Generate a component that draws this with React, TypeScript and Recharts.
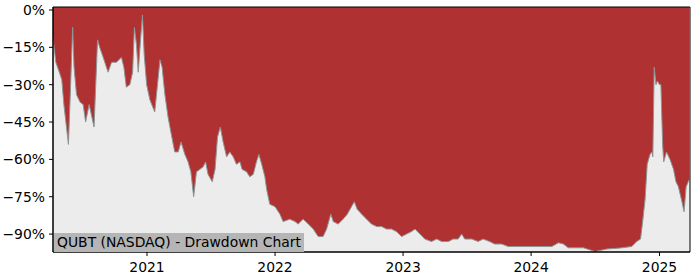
import { AreaChart, Area, XAxis, YAxis, CartesianGrid, ReferenceArea } from "recharts";

const FONT = "'DejaVu Sans', Verdana, sans-serif";
const RED = "#b03131";
const BG = "#ececec";

// weekly-ish samples
const dates = [
  "2020-04-08", "2020-04-16", "2020-04-26", "2020-05-03", "2020-05-09", "2020-05-22", "2020-05-28",
  "2020-06-03", "2020-06-07", "2020-06-14", "2020-06-24", "2020-07-03", "2020-07-10", "2020-07-20",
  "2020-08-03", "2020-08-13", "2020-08-19", "2020-08-29", "2020-09-12", "2020-09-22", "2020-10-06",
  "2020-10-20", "2020-10-27", "2020-11-03", "2020-11-13", "2020-11-21", "2020-11-26", "2020-12-02",
  "2020-12-07", "2020-12-14", "2020-12-19", "2020-12-24", "2020-12-31", "2021-01-09", "2021-01-23",
  "2021-01-28", "2021-02-07", "2021-02-13", "2021-02-21", "2021-03-02", "2021-03-10", "2021-03-21",
  "2021-03-31", "2021-04-08", "2021-04-19", "2021-04-28", "2021-05-06", "2021-05-14", "2021-05-22",
  "2021-06-01", "2021-06-10", "2021-06-17", "2021-06-24", "2021-07-06", "2021-07-14", "2021-07-21",
  "2021-07-29", "2021-08-06", "2021-08-16", "2021-08-25", "2021-09-04", "2021-09-13", "2021-09-23",
  "2021-09-29", "2021-10-12", "2021-10-21", "2021-10-31", "2021-11-09", "2021-11-16", "2021-11-24",
  "2021-12-03", "2021-12-08", "2021-12-17", "2022-01-01", "2022-01-15", "2022-01-24", "2022-02-12",
  "2022-02-27", "2022-03-08", "2022-03-22", "2022-04-06", "2022-04-20", "2022-05-04", "2022-05-18",
  "2022-05-28", "2022-06-09", "2022-06-16", "2022-06-30", "2022-07-14", "2022-07-26", "2022-08-07",
  "2022-08-15", "2022-08-23", "2022-09-05", "2022-09-19", "2022-10-03", "2022-10-18", "2022-11-01",
  "2022-11-15", "2022-11-29", "2022-12-13", "2022-12-28", "2023-01-11", "2023-01-25", "2023-02-04",
  "2023-02-18", "2023-03-04", "2023-03-23", "2023-04-07", "2023-04-21", "2023-05-10", "2023-05-24",
  "2023-06-07", "2023-06-17", "2023-06-26", "2023-07-16", "2023-08-03", "2023-08-17", "2023-09-05",
  "2023-09-19", "2023-10-09", "2023-10-28", "2023-11-16", "2023-12-05", "2023-12-24", "2024-01-12",
  "2024-01-31", "2024-02-15", "2024-02-29", "2024-03-19", "2024-04-02", "2024-04-16", "2024-05-05",
  "2024-05-29", "2024-07-01", "2024-08-04", "2024-09-11", "2024-10-14", "2024-10-28", "2024-11-08",
  "2024-11-14", "2024-11-21", "2024-11-27", "2024-12-05", "2024-12-10", "2024-12-13", "2024-12-17",
  "2024-12-22", "2024-12-26", "2025-01-01", "2025-01-05", "2025-01-10", "2025-01-13", "2025-01-21",
  "2025-01-31", "2025-02-10", "2025-02-17", "2025-02-24", "2025-03-06", "2025-03-12", "2025-03-18",
  "2025-03-24", "2025-03-27",
];

const drawdown = [
  -11, -21, -25, -28, -38, -54, -31,
  -7, -23, -34, -37, -38, -45, -38,
  -47, -12, -15, -19, -25, -21, -21,
  -19, -23, -31, -30, -25, -7, -14,
  -25, -11, -2, -18, -30, -36, -41,
  -34, -20, -23, -34, -43, -49, -57,
  -57, -53, -58, -61, -65, -75, -65,
  -64, -63, -61, -66, -69, -64, -51,
  -47, -53, -59, -57, -59, -62, -61,
  -64, -65, -67, -66, -61, -58, -62,
  -67, -72, -78, -79, -82, -85, -84,
  -85, -86, -84, -86, -88, -91, -91,
  -88, -82, -85, -86, -84, -82, -79,
  -77, -80, -82, -84, -86, -87, -87,
  -88, -88, -89, -91, -90, -89, -88,
  -90, -92, -93, -92, -93, -93, -92,
  -92, -90, -92, -92, -93, -92, -93,
  -94, -94, -95, -95, -95, -95, -95,
  -95, -95, -95, -93.5, -94, -95.5, -95.5,
  -95.5, -97, -96, -95.6, -95, -93, -92,
  -85, -76, -62, -58, -57, -59, -23,
  -30, -28.5, -30, -30, -54, -61, -57,
  -60, -64, -69, -71, -77, -81, -71,
  -69, -68,
];

const yearTicks = ["2021-01-01", "2022-01-01", "2023-01-01", "2024-01-01", "2025-01-01"];
const pctTicks = [0, -15, -30, -45, -60, -75, -90];

const Y_MIN = -97.2;
const Y_MAX = 1.2;
const X_START = Date.parse(dates[0]);
const X_END = Date.parse("2025-03-29");

const data = dates.map((d, i) => ({ t: Date.parse(d), dd: drawdown[i] }));

const tickStyle = { fontFamily: FONT, fontSize: 13.9, fill: "#000" };

export default function App() {
  return (
    <div style={{ position: "absolute", left: 0, top: 0, width: 700, height: 280, background: "#fff" }}>
      <AreaChart
        width={700}
        height={280}
        data={data}
        margin={{ top: 7, right: 10, left: 0, bottom: 0 }}
      >
        <CartesianGrid horizontal={false} vertical={false} fill={BG} />
        <XAxis
          dataKey="t"
          type="number"
          scale="time"
          domain={[X_START, X_END]}
          allowDataOverflow
          ticks={yearTicks.map((d) => Date.parse(d))}
          tickFormatter={(v: number) => String(new Date(v).getUTCFullYear())}
          tick={tickStyle}
          tickSize={4}
          tickMargin={6}
          height={28}
          axisLine={{ stroke: "#000" }}
          tickLine={{ stroke: "#000" }}
        />
        <YAxis
          type="number"
          domain={[Y_MIN, Y_MAX]}
          allowDataOverflow
          ticks={pctTicks}
          tickFormatter={(v: number) => (v === 0 ? "0%" : `\u2212${Math.abs(v)}%`)}
          tick={tickStyle}
          tickSize={4}
          tickMargin={4}
          width={53}
          axisLine={{ stroke: "#000" }}
          tickLine={{ stroke: "#000" }}
        />
        <Area
          type="linear"
          dataKey="dd"
          baseValue={Y_MAX}
          stroke="#8f9494"
          strokeWidth={1}
          fill={RED}
          fillOpacity={1}
          dot={false}
          activeDot={false}
          isAnimationActive={false}
        />
        <ReferenceArea
          x1={X_START}
          x2={X_END}
          y1={Y_MIN}
          y2={Y_MAX}
          fill="none"
          stroke="#000"
          strokeWidth={1}
          ifOverflow="visible"
        />
      </AreaChart>
      {/* title box, bottom-left of the plot */}
      <div
        style={{
          position: "absolute",
          left: 54,
          top: 233,
          height: 19,
          padding: "0 3px",
          background: "#b5b5b5",
          fontFamily: FONT,
          fontSize: 13.9,
          lineHeight: "19px",
          color: "#000",
          whiteSpace: "nowrap",
        }}
      >
        QUBT (NASDAQ) - Drawdown Chart
      </div>
    </div>
  );
}
